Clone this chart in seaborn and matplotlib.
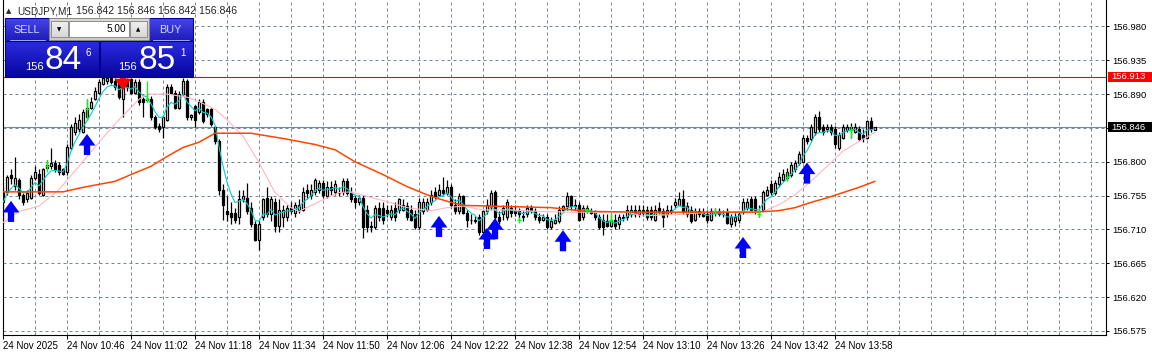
import numpy as np
import pandas as pd
import matplotlib
matplotlib.use("Agg")
import matplotlib.pyplot as plt
import matplotlib.transforms as mtransforms
from matplotlib.colors import LinearSegmentedColormap
from matplotlib.patches import Rectangle
from matplotlib.path import Path
import seaborn as sns

# USDJPY M1, 24 Nov 2025, one bar per minute starting 10:30
opens = [
    156.760, 156.760, 156.782, 156.768, 156.776, 156.756, 156.750, 156.752, 156.779, 156.784,
    156.756, 156.792, 156.794, 156.799, 156.796, 156.790, 156.787, 156.819, 156.839, 156.844,
    156.840, 156.859, 156.871, 156.883, 156.892, 156.903, 156.907, 156.912, 156.907, 156.906,
    156.883, 156.907, 156.910, 156.892, 156.906, 156.883, 156.883, 156.884, 156.859, 156.847,
    156.846, 156.856, 156.899, 156.892, 156.872, 156.890, 156.907, 156.859, 156.874, 156.866,
    156.879, 156.870, 156.870, 156.846, 156.827, 156.763, 156.734, 156.732, 156.732, 156.726,
    156.750, 156.752, 156.739, 156.717, 156.696, 156.727, 156.752, 156.730, 156.747, 156.714,
    156.727, 156.727, 156.739, 156.732, 156.736, 156.736, 156.763, 156.756, 156.760, 156.763,
    156.772, 156.755, 156.767, 156.760, 156.758, 156.760, 156.774, 156.759, 156.752, 156.747,
    156.752, 156.736, 156.715, 156.713, 156.739, 156.739, 156.736, 156.727, 156.738, 156.736,
    156.736, 156.741, 156.736, 156.730, 156.713, 156.734, 156.736, 156.747, 156.760, 156.756,
    156.763, 156.759, 156.767, 156.743, 156.734, 156.754, 156.732, 156.723, 156.721, 156.726,
    156.707, 156.734, 156.741, 156.760, 156.727, 156.730, 156.727, 156.739, 156.735, 156.734,
    156.728, 156.730, 156.738, 156.735, 156.727, 156.723, 156.727, 156.713, 156.719, 156.721,
    156.736, 156.741, 156.754, 156.741, 156.742, 156.726, 156.739, 156.735, 156.732, 156.727,
    156.723, 156.721, 156.715, 156.723, 156.717, 156.725, 156.726, 156.730, 156.736, 156.730,
    156.736, 156.736, 156.736, 156.723, 156.739, 156.734, 156.730, 156.736, 156.742, 156.743,
    156.750, 156.730, 156.736, 156.723, 156.734, 156.732, 156.730, 156.722, 156.734, 156.734,
    156.731, 156.734, 156.717, 156.721, 156.723, 156.734, 156.739, 156.750, 156.750, 156.734,
    156.736, 156.756, 156.770, 156.759, 156.770, 156.776, 156.778, 156.783, 156.790, 156.799,
    156.800, 156.832, 156.830, 156.839, 156.859, 156.846, 156.843, 156.846, 156.843, 156.819,
    156.832, 156.842, 156.846, 156.840, 156.843, 156.836, 156.832, 156.854, 156.842,
]
highs = [
    156.766, 156.783, 156.790, 156.806, 156.779, 156.759, 156.763, 156.783, 156.794, 156.790,
    156.792, 156.803, 156.818, 156.803, 156.800, 156.792, 156.823, 156.850, 156.859, 156.863,
    156.870, 156.883, 156.886, 156.899, 156.910, 156.915, 156.915, 156.915, 156.912, 156.910,
    156.912, 156.912, 156.912, 156.910, 156.910, 156.886, 156.890, 156.887, 156.862, 156.851,
    156.862, 156.903, 156.903, 156.896, 156.894, 156.912, 156.910, 156.864, 156.876, 156.883,
    156.883, 156.872, 156.872, 156.848, 156.830, 156.770, 156.754, 156.746, 156.739, 156.763,
    156.763, 156.772, 156.746, 156.721, 156.723, 156.752, 156.766, 156.754, 156.752, 156.750,
    156.743, 156.743, 156.747, 156.747, 156.750, 156.766, 156.770, 156.770, 156.779, 156.776,
    156.776, 156.774, 156.774, 156.776, 156.766, 156.779, 156.779, 156.766, 156.756, 156.756,
    156.756, 156.743, 156.721, 156.743, 156.746, 156.746, 156.743, 156.743, 156.746, 156.752,
    156.750, 156.746, 156.743, 156.736, 156.752, 156.752, 156.752, 156.763, 156.766, 156.770,
    156.780, 156.776, 156.770, 156.750, 156.759, 156.756, 156.736, 156.731, 156.728, 156.730,
    156.736, 156.750, 156.763, 156.763, 156.734, 156.743, 156.750, 156.743, 156.742, 156.739,
    156.734, 156.742, 156.743, 156.739, 156.732, 156.731, 156.731, 156.726, 156.730, 156.741,
    156.743, 156.760, 156.756, 156.750, 156.746, 156.743, 156.743, 156.739, 156.736, 156.731,
    156.730, 156.730, 156.730, 156.731, 156.731, 156.731, 156.742, 156.742, 156.743, 156.743,
    156.743, 156.741, 156.741, 156.742, 156.746, 156.739, 156.743, 156.743, 156.752, 156.760,
    156.762, 156.746, 156.741, 156.739, 156.739, 156.738, 156.736, 156.739, 156.739, 156.738,
    156.736, 156.738, 156.730, 156.732, 156.734, 156.752, 156.752, 156.754, 156.755, 156.743,
    156.763, 156.768, 156.776, 156.776, 156.786, 156.790, 156.792, 156.800, 156.803, 156.814,
    156.836, 156.836, 156.850, 156.863, 156.868, 156.850, 156.850, 156.850, 156.847, 156.840,
    156.850, 156.850, 156.852, 156.851, 156.847, 156.843, 156.856, 156.859, 156.846,
]
lows = [
    156.717, 156.756, 156.770, 156.763, 156.750, 156.743, 156.747, 156.750, 156.776, 156.756,
    156.754, 156.790, 156.790, 156.787, 156.783, 156.783, 156.783, 156.816, 156.836, 156.840,
    156.838, 156.856, 156.870, 156.882, 156.890, 156.902, 156.904, 156.903, 156.896, 156.883,
    156.860, 156.894, 156.890, 156.890, 156.876, 156.860, 156.879, 156.856, 156.843, 156.840,
    156.832, 156.854, 156.890, 156.870, 156.870, 156.888, 156.856, 156.856, 156.846, 156.863,
    156.851, 156.859, 156.847, 156.823, 156.756, 156.723, 156.721, 156.717, 156.719, 156.717,
    156.747, 156.730, 156.713, 156.694, 156.682, 156.723, 156.726, 156.721, 156.707, 156.706,
    156.713, 156.721, 156.730, 156.727, 156.732, 156.734, 156.750, 156.750, 156.756, 156.759,
    156.752, 156.752, 156.756, 156.756, 156.754, 156.756, 156.756, 156.747, 156.739, 156.743,
    156.699, 156.707, 156.706, 156.710, 156.721, 156.717, 156.726, 156.723, 156.721, 156.732,
    156.734, 156.723, 156.721, 156.710, 156.710, 156.731, 156.734, 156.743, 156.750, 156.754,
    156.756, 156.756, 156.739, 156.730, 156.730, 156.730, 156.713, 156.717, 156.718, 156.703,
    156.706, 156.730, 156.736, 156.723, 156.717, 156.723, 156.723, 156.727, 156.728, 156.723,
    156.721, 156.726, 156.732, 156.723, 156.718, 156.721, 156.710, 156.710, 156.717, 156.718,
    156.734, 156.736, 156.736, 156.736, 156.721, 156.723, 156.732, 156.730, 156.723, 156.710,
    156.703, 156.713, 156.713, 156.710, 156.710, 156.721, 156.723, 156.726, 156.726, 156.727,
    156.728, 156.723, 156.723, 156.721, 156.730, 156.713, 156.726, 156.730, 156.739, 156.742,
    156.730, 156.727, 156.718, 156.721, 156.727, 156.726, 156.719, 156.721, 156.728, 156.728,
    156.727, 156.717, 156.713, 156.714, 156.719, 156.731, 156.736, 156.734, 156.731, 156.726,
    156.734, 156.754, 156.756, 156.756, 156.767, 156.774, 156.776, 156.780, 156.787, 156.796,
    156.799, 156.823, 156.827, 156.836, 156.840, 156.836, 156.839, 156.836, 156.819, 156.816,
    156.830, 156.839, 156.832, 156.838, 156.827, 156.826, 156.830, 156.840, 156.842,
]
closes = [
    156.746, 156.780, 156.779, 156.779, 156.756, 156.747, 156.759, 156.779, 156.786, 156.759,
    156.790, 156.796, 156.799, 156.790, 156.786, 156.784, 156.820, 156.846, 156.852, 156.856,
    156.866, 156.872, 156.880, 156.894, 156.906, 156.911, 156.912, 156.906, 156.899, 156.886,
    156.906, 156.899, 156.892, 156.906, 156.879, 156.879, 156.882, 156.859, 156.846, 156.844,
    156.859, 156.899, 156.892, 156.872, 156.890, 156.907, 156.859, 156.862, 156.856, 156.879,
    156.854, 156.863, 156.850, 156.827, 156.763, 156.743, 156.730, 156.726, 156.723, 156.750,
    156.755, 156.734, 156.717, 156.696, 156.717, 156.750, 156.730, 156.750, 156.714, 156.736,
    156.736, 156.738, 156.734, 156.742, 156.743, 156.760, 156.759, 156.763, 156.776, 156.772,
    156.756, 156.767, 156.763, 156.770, 156.759, 156.774, 156.759, 156.750, 156.747, 156.752,
    156.713, 156.713, 156.713, 156.739, 156.726, 156.723, 156.732, 156.736, 156.726, 156.750,
    156.743, 156.726, 156.723, 156.713, 156.747, 156.746, 156.747, 156.756, 156.754, 156.763,
    156.759, 156.766, 156.743, 156.734, 156.754, 156.732, 156.723, 156.722, 156.723, 156.707,
    156.734, 156.743, 156.759, 156.727, 156.721, 156.739, 156.746, 156.732, 156.732, 156.731,
    156.726, 156.738, 156.736, 156.726, 156.723, 156.727, 156.713, 156.721, 156.723, 156.736,
    156.741, 156.754, 156.741, 156.743, 156.723, 156.739, 156.736, 156.732, 156.727, 156.713,
    156.713, 156.715, 156.723, 156.714, 156.726, 156.726, 156.736, 156.736, 156.730, 156.736,
    156.732, 156.726, 156.726, 156.736, 156.734, 156.726, 156.736, 156.734, 156.747, 156.751,
    156.734, 156.741, 156.721, 156.734, 156.730, 156.728, 156.723, 156.734, 156.732, 156.731,
    156.730, 156.719, 156.726, 156.727, 156.730, 156.747, 156.747, 156.736, 156.734, 156.735,
    156.760, 156.763, 156.760, 156.772, 156.780, 156.784, 156.787, 156.796, 156.799, 156.810,
    156.832, 156.828, 156.846, 156.859, 156.843, 156.840, 156.846, 156.840, 156.823, 156.836,
    156.846, 156.846, 156.844, 156.846, 156.830, 156.832, 156.854, 156.843, 156.846,
]

time_labels = ["24 Nov 2025", "24 Nov 10:46", "24 Nov 11:02", "24 Nov 11:18", "24 Nov 11:34",
               "24 Nov 11:50", "24 Nov 12:06", "24 Nov 12:22", "24 Nov 12:38", "24 Nov 12:54",
               "24 Nov 13:10", "24 Nov 13:26", "24 Nov 13:42", "24 Nov 13:58"]
price_levels = [156.575, 156.620, 156.665, 156.710, 156.755, 156.800, 156.845, 156.890, 156.935, 156.980]
price_labels = ["156.575", "156.620", "156.665", "156.710", "156.755", "156.800", "156.845",
                "156.890", "156.935", "156.980"]

bid_price = 156.846
alert_price = 156.913
last_bar = ["156.842", "156.846", "156.842", "156.846"]

# slow MA (orange) and middle MA (pink): bar index -> price
slow_ma_idx = [0, 15, 20, 24, 28, 32, 37, 41, 45, 49, 53, 62, 70, 78, 83, 88, 95, 101, 107, 112,
               115, 137, 146, 160, 188, 194, 198, 202, 206, 210, 214, 218]
slow_ma_val = [156.760, 156.760, 156.766, 156.770, 156.774, 156.783, 156.794, 156.807, 156.819, 156.826,
               156.838, 156.838, 156.831, 156.823, 156.816, 156.800, 156.783, 156.767, 156.754, 156.746,
               156.742, 156.739, 156.734, 156.733, 156.733, 156.735, 156.739, 156.746, 156.752, 156.759,
               156.766, 156.774]
mid_ma_idx = [0, 4, 9, 14, 19, 24, 29, 34, 36, 41, 46, 49, 53, 56, 60, 64, 68, 72, 74, 79,
              84, 87, 91, 96, 101, 107, 111, 115, 120, 127, 134, 142, 156, 160, 169, 177, 185, 190, 194, 198,
              202, 206, 210, 214, 218]
mid_ma_val = [156.719, 156.734, 156.741, 156.763, 156.794, 156.826, 156.856, 156.883, 156.890, 156.890,
              156.886, 156.880, 156.870, 156.856, 156.834, 156.799, 156.759, 156.739, 156.734, 156.747,
              156.759, 156.760, 156.754, 156.747, 156.739, 156.735, 156.739, 156.741, 156.736, 156.736,
              156.734, 156.733, 156.733, 156.728, 156.730, 156.733, 156.734, 156.734, 156.743, 156.756,
              156.774, 156.794, 156.814, 156.827, 156.839]

# signal arrows and green cross markers
buy_idx = [2, 21, 109, 121, 123, 140, 185, 201]
buy_price = [156.734, 156.823, 156.714, 156.698, 156.711, 156.695, 156.686, 156.785]
sell_idx = [30]
sell_price = [156.909]
cross_idx = [11, 21, 36, 129, 146, 152, 178, 189, 196, 212]
cross_top = [156.803, 156.883, 156.907, 156.727, 156.739, 156.732, 156.738, 156.739, 156.787, 156.848]
cross_bot = [156.786, 156.856, 156.880, 156.719, 156.732, 156.719, 156.730, 156.727, 156.774, 156.832]
cross_mid = [156.794, 156.870, 156.883, 156.723, 156.736, 156.723, 156.734, 156.731, 156.780, 156.842]

sns.set_style("white")
plt.rcParams['font.family'] = ['Liberation Sans', 'DejaVu Sans']

W, H = 1152, 355
fig = plt.figure(figsize=(W / 100, H / 100), dpi=100)
fig.patch.set_facecolor("white")
ax = fig.add_axes([3 / W, 20 / H, 1103 / W, 335 / H])

n = len(closes)
x = np.arange(n)
o = np.array(opens)
c = np.array(closes)
hi = np.array(highs)
lo = np.array(lows)
up = c >= o

# dashed grid
grid_kw = dict(color="#778899", lw=0.72, ls=(0, (3, 3)), zorder=0)
for p in price_levels:
    ax.axhline(p, **grid_kw)
for gx in range(8, 276, 8):
    ax.axvline(gx, **grid_kw)

# bid line and alert line
ax.axhline(bid_price, color="#778899", lw=0.8, zorder=1)
ax.axhline(alert_price, color="red", lw=0.8, zorder=1)

# candles
ax.vlines(x, lo, hi, color="black", lw=0.9, zorder=2)
ax.bar(x, np.abs(c - o), bottom=np.minimum(o, c), width=0.68,
       color=np.where(up, "white", "black"), edgecolor="black", linewidth=0.9, zorder=2.1)

# moving averages
fast = pd.Series(closes).ewm(span=5, adjust=False).mean()
sns.lineplot(x=x, y=fast.values, ax=ax, color="#00CED1", lw=0.8, zorder=3)
sns.lineplot(x=mid_ma_idx, y=mid_ma_val, ax=ax, color="#FFB6C1", lw=0.8, zorder=3)
sns.lineplot(x=slow_ma_idx, y=slow_ma_val, ax=ax, color="#FF4500", lw=1.1, zorder=3)

# green crosses
ax.vlines(cross_idx, cross_bot, cross_top, color="#00FF00", lw=0.9, zorder=4)
sns.scatterplot(x=cross_idx, y=cross_mid, ax=ax, marker="_", s=8, color="#00FF00",
                linewidth=0.9, zorder=4)

# arrows
arrow_up = Path([(0, 0.5), (0.4, -0.05), (0.15, -0.05), (0.15, -0.5), (-0.15, -0.5),
                 (-0.15, -0.05), (-0.4, -0.05), (0, 0.5)],
                [Path.MOVETO] + [Path.LINETO] * 6 + [Path.CLOSEPOLY])
arrow_dn = Path(arrow_up.vertices * np.array([1, -1]), arrow_up.codes)
sns.scatterplot(x=buy_idx, y=buy_price, ax=ax, marker=arrow_up, s=230, color="#0000FF",
                edgecolor="none", linewidth=0, zorder=5)
sns.scatterplot(x=sell_idx, y=sell_price, ax=ax, marker=arrow_dn, s=230, color="#FF0000",
                edgecolor="none", linewidth=0, zorder=5)

# axes
ax.set_xlim(0, 275.75)
ax.set_ylim(156.5696, 157.0152)
ax.set_xticks(range(0, 16 * len(time_labels), 16))
ax.set_xticklabels(time_labels, ha="left")
ax.set_yticks(price_levels)
ax.set_yticklabels(price_labels)
ax.yaxis.tick_right()
ax.tick_params(axis="x", bottom=True, length=3, width=0.72, pad=1.5, labelsize=7,
               colors="black")
ax.tick_params(axis="y", right=True, left=False, labelright=True, labelleft=False,
               length=2.2, width=0.72, pad=2, labelsize=6.8, colors="black")
ax.set_xlabel("")
ax.set_ylabel("")
for s in ["left", "right", "bottom"]:
    ax.spines[s].set_color("black")
    ax.spines[s].set_linewidth(0.8)
ax.spines["top"].set_visible(False)

# price boxes on the right scale
blend = mtransforms.blended_transform_factory(ax.transAxes, ax.transData)
for price, fc in [(bid_price, "black"), (alert_price, "red")]:
    ax.add_patch(Rectangle((1 + 2 / 1103, price - 0.0068), 46 / 1103, 0.0136, transform=blend,
                           clip_on=False, fc=fc, ec="none", zorder=10))
    ax.text(1 + 5 / 1103, price, f"{price:.3f}", transform=blend, color="white", fontsize=6.8,
            va="center", ha="left", zorder=11, clip_on=False)

# overlay: title and one-click trading panel (pixel coordinates)
ov = fig.add_axes([0, 0, 1, 1], zorder=10)
ov.set_axis_off()


def box(x0, y0, x1, y1, top, bottom, edge=None):
    cm = LinearSegmentedColormap.from_list("g", [top, bottom])
    ov.imshow(np.linspace(0, 1, 64)[:, None], cmap=cm, extent=(x0, x1, y1, y0),
              aspect="auto", interpolation="bilinear", zorder=1)
    if edge:
        ov.add_patch(Rectangle((x0, y0), x1 - x0, y1 - y0, fill=False, ec=edge, lw=0.75, zorder=2))


ov.text(6, 11, "▲", fontsize=5, va="center", ha="left", family=["DejaVu Sans"])
ov.text(17, 11, "USDJPY,M1", fontsize=7.2, va="center", ha="left")
ov.text(76, 11, " ".join(last_bar), fontsize=7.6, va="center", ha="left")

box(5, 18, 49, 41, "#4646e6", "#1c1cbc", "#0000a0")
box(149, 18, 193, 41, "#4646e6", "#1c1cbc", "#0000a0")
box(49, 18, 149, 40, "#dcdad4", "#cfccc4", "#8a8a8a")
box(51, 21, 68, 37, "#f0f0f0", "#d8d8d8", "#909090")
box(69, 21, 129, 37, "#ffffff", "#ffffff", "#909090")
box(130, 21, 147, 37, "#f0f0f0", "#d8d8d8", "#909090")
box(5, 41, 99, 77, "#2c2ce0", "#0606a0", "#000090")
box(100, 41, 193, 77, "#2c2ce0", "#0606a0", "#000090")
ov.plot([10, 45], [39.5, 39.5], color="#a0a8ff", lw=0.7, zorder=3)
ov.plot([153, 189], [39.5, 39.5], color="#a0a8ff", lw=0.7, zorder=3)

ov.text(27, 30, "SELL", color="#d0d8ff", fontsize=7.8, ha="center", va="center", zorder=4)
ov.text(170, 30, "BUY", color="#d0d8ff", fontsize=7.8, ha="center", va="center", zorder=4)
ov.text(126, 29.5, "5.00", color="black", fontsize=7.2, ha="right", va="center", zorder=4)
ov.text(59.5, 29.5, "▼", color="black", fontsize=4, ha="center", va="center", zorder=4,
        family=["DejaVu Sans"])
ov.text(138.5, 29.5, "▲", color="black", fontsize=4, ha="center", va="center", zorder=4,
        family=["DejaVu Sans"])

sell_txt = f"{bid_price:.3f}"
buy_txt = "156.851"
for (big_x, small_x, sup_x), q in [((63.5, 25, 85), sell_txt), ((157, 118, 180), buy_txt)]:
    ov.text(small_x, 70, q[:3], color="white", fontsize=8, ha="left", va="baseline", zorder=4)
    ov.text(big_x, 69, q[4:6], color="white", fontsize=24, ha="center", va="baseline", zorder=4)
    ov.text(sup_x, 56, q[6], color="white", fontsize=7, ha="left", va="baseline", zorder=4)

ov.set_xlim(0, W)
ov.set_ylim(H, 0)

fig.savefig("out.png", dpi=100)
